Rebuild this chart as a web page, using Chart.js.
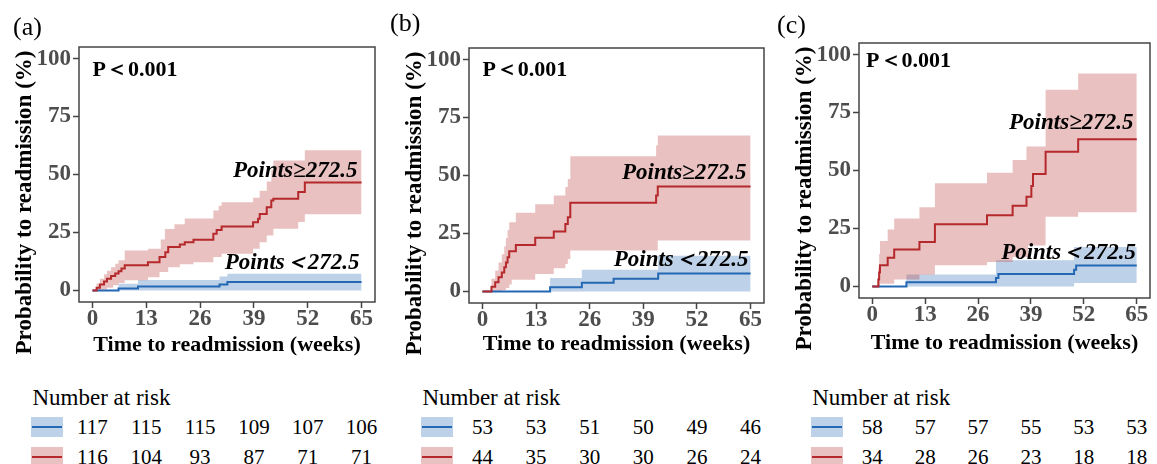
<!DOCTYPE html>
<html>
<head>
<meta charset="utf-8">
<script src="https://cdn.jsdelivr.net/npm/chart.js@4.4.0/dist/chart.umd.min.js"></script>
<style>
  html, body { margin: 0; padding: 0; background: #fff; }
  #wrap { position: relative; width: 1157px; height: 464px; overflow: hidden;
          font-family: "Liberation Serif", "Times New Roman", serif; color: #000; }
  #wrap canvas { position: absolute; top: 0; }
  .risk-title { position: absolute; font-size: 23px; line-height: 1; white-space: nowrap; transform: translateY(-50%); }
  .risk-num { position: absolute; font-size: 21px; line-height: 1; white-space: nowrap; transform: translate(-50%, -50%); }
  .swatch { position: absolute; width: 32px; height: 20px; }
  .swatch i { position: absolute; left: 1px; right: 1px; top: 9px; height: 2px; }
</style>
</head>
<body>
<div id="wrap"></div>
<script>
// axis ticks shared by the three panels
const xTicks = [0, 13, 26, 39, 52, 65];
const yTicks = [0, 25, 50, 75, 100];

// (a) step curves, [week, %]
const aHighLine = [[0,0],[1.0,1.2],[1.8,2.6],[2.8,3.8],[3.5,5.0],[4.5,6.2],[5.5,7.3],[6.3,8.3],[7.0,9.4],[7.8,10.8],[13.4,12.2],[16.2,14.4],[17.6,16.5],[18.3,18.7],[21.1,19.8],[22.3,20.8],[24.4,21.8],[29.2,24.4],[30.0,26.1],[31.2,27.6],[38.8,29.4],[40.0,30.9],[40.4,33.0],[42.1,35.9],[43.2,38.8],[43.7,39.5],[49.7,42.4],[51.3,46.5],[65,46.5]];
const aHighUpper = [[0,0],[1.0,3],[1.8,5],[2.8,7],[3.5,8.5],[4.5,10],[5.5,11.5],[6.3,13],[7.8,17.2],[13.4,18],[16.5,22],[17.5,26.5],[19.8,28.5],[22.3,31],[29.2,34.5],[30.5,36.5],[31.2,38],[38.8,40],[40.4,43],[42.1,47],[43.2,52],[43.7,56],[51.3,60.5],[65,60.5]];
const aHighLower = [[0,0],[2.5,0.4],[3.5,1.2],[5.0,2.2],[6.3,3.2],[7.8,4.4],[13.4,5.7],[16.2,7.9],[18.3,10],[21.1,11.3],[24.4,12.2],[29.2,14.4],[31.2,15.8],[38.8,18],[40.4,20.8],[42.1,23.7],[43.7,26.6],[49.7,29.5],[51.3,32.8],[65,32.8]];
const aLowLine = [[0,0],[6.3,0.85],[11.0,1.7],[30.7,2.6],[32.6,3.6],[65,3.6]];
const aLowUpper = [[0,0],[6.3,2.9],[11.0,4.5],[30.7,6.0],[32.6,7.2],[65,7.2]];
const aLowLower = [[0,0],[65,0]];

// (b)
const bHighLine = [[0,0],[2.2,2.0],[3.1,3.9],[3.9,6.1],[4.7,8.2],[5.3,10.4],[5.7,12.5],[6.1,14.7],[6.5,17.3],[8.1,20.0],[12.8,23.1],[17.3,25.8],[20.1,29.1],[20.7,32.0],[21.3,38.2],[42.1,41.4],[42.5,45.3],[65,45.3]];
const bHighUpper = [[0,0],[2.2,5.5],[3.1,9],[3.9,12.5],[4.7,16],[5.3,19.5],[5.7,23],[6.1,26.5],[6.5,29.8],[8.1,33.9],[12.8,37.6],[17.3,41.4],[20.1,45],[20.7,48.5],[21.3,58.3],[42.1,63],[42.5,67.3],[65,67.3]];
const bHighLower = [[0,0],[4.7,0.5],[5.7,1.5],[6.5,3.0],[7.1,5.0],[12.8,7.5],[17.3,10],[20.1,11.8],[20.7,14],[21.3,17.6],[42.5,22.0],[65,22.0]];
const bLowLine = [[0,0],[16.4,1.8],[24.1,3.7],[31.8,5.5],[42.6,7.7],[65,7.7]];
const bLowUpper = [[0,0],[16.4,5.8],[24.1,9.3],[42.6,15.4],[65,15.4]];
const bLowLower = [[0,0],[65,0]];

// (c)
const cHighLine = [[0,0],[1.5,3.0],[1.7,6.0],[1.9,9.1],[3.8,12.4],[5.4,15.9],[11.6,19.2],[15.4,26.8],[28.2,30.7],[34.5,34.8],[37.9,38.7],[39.1,43.3],[39.5,48.5],[42.6,58.1],[50.6,63.5],[65,63.5]];
const cHighUpper = [[0,0],[1.5,8],[1.7,14],[1.9,19.6],[3.8,24.5],[5.4,29.3],[11.6,34.1],[15.4,44.5],[28.2,49],[34.5,54.5],[37.9,60.3],[42.6,84.8],[50.6,91.8],[65,91.8]];
const cHighLower = [[0,0],[1.9,1.2],[5.4,3.0],[11.6,5.0],[15.4,9.1],[28.2,10.5],[34.5,12.7],[38.3,17.7],[42.6,30.0],[50.6,32.0],[65,32.0]];
const cLowLine = [[0,0],[8.4,1.8],[30.4,3.6],[31.0,5.3],[49.6,7.2],[50.1,9.0],[65,9.0]];
const cLowUpper = [[0,0],[8.4,5.1],[30.4,11.3],[49.6,17.0],[65,17.0]];
const cLowLower = [[0,0],[49.6,1.5],[65,1.5]];

// number at risk at each x tick
const riskALow = [117, 115, 115, 109, 107, 106];
const riskAHigh = [116, 104, 93, 87, 71, 71];
const riskBLow = [53, 53, 51, 50, 49, 46];
const riskBHigh = [44, 35, 30, 30, 26, 24];
const riskCLow = [58, 57, 57, 55, 53, 53];
const riskCHigh = [34, 28, 26, 23, 18, 18];

const SERIF = '"Liberation Serif", "Times New Roman", serif';
const RED = "#b5282b";
const BLUE = "#2468b4";
const RED_BAND = "rgba(190, 62, 62, 0.32)";
const BLUE_BAND = "rgba(36, 104, 180, 0.30)";
const CANVAS_H = 370;

const panels = [
    { letter: "(a)", left: 0, width: 388, area: { left: 79, top: 47, right: 375, bottom: 302 },
      letterPos: [13, 28], xTitleGap: 43, pAt: [0, 95], hiLabel: [64, 51.3], loLabel: [64.5, 11.6],
      high: aHighLine, highUp: aHighUpper, highLo: aHighLower, low: aLowLine, lowUp: aLowUpper, lowLo: aLowLower,
      riskLow: riskALow, riskHigh: riskAHigh },
    { letter: "(b)", left: 388, width: 388, area: { left: 81, top: 48, right: 376, bottom: 303 },
      letterPos: [2, 24], xTitleGap: 41, pAt: [0, 95.5], hiLabel: [64, 50.9], loLabel: [64.5, 13.4],
      high: bHighLine, highUp: bHighUpper, highLo: bHighLower, low: bLowLine, lowUp: bLowUpper, lowLo: bLowLower,
      riskLow: riskBLow, riskHigh: riskBHigh },
    { letter: "(c)", left: 776, width: 381, area: { left: 83, top: 43, right: 374, bottom: 298 },
      letterPos: [1, 26], xTitleGap: 45, pAt: [-1.5, 97], hiLabel: [64.2, 70.6], loLabel: [64.8, 14.3],
      high: cHighLine, highUp: cHighUpper, highLo: cHighLower, low: cLowLine, lowUp: cLowUpper, lowLo: cLowLower,
      riskLow: riskCLow, riskHigh: riskCHigh }
];

// "before" in Chart.js = horizontal first, then the jump (KM style)
function stepSet(points, color, width, fill, bg) {
    return {
        data: points.map((p) => ({ x: p[0], y: p[1] })),
        stepped: "before",
        borderColor: color,
        borderWidth: width,
        backgroundColor: bg || "rgba(0,0,0,0)",
        fill: fill,
        pointRadius: 0,
        tension: 0
    };
}

function decorFor(p) {
    return {
        id: "decor",
        afterDraw(chart) {
            const { ctx, chartArea: a } = chart;
            const x = chart.scales.x;
            const y = chart.scales.y;
            ctx.save();
            // panel frame
            ctx.strokeStyle = "#444";
            ctx.lineWidth = 1.5;
            ctx.strokeRect(a.left, a.top, a.right - a.left, a.bottom - a.top);

            ctx.fillStyle = "#000";
            ctx.textBaseline = "middle";
            ctx.textAlign = "left";
            ctx.font = "26px " + SERIF;
            ctx.fillText(p.letter, p.letterPos[0], p.letterPos[1]);

            ctx.textAlign = "center";
            ctx.font = "bold 22px " + SERIF;
            ctx.fillText("Time to readmission (weeks)", (a.left + a.right) / 2, a.bottom + p.xTitleGap);

            ctx.save();
            ctx.translate(a.left - 54, (a.top + a.bottom) / 2 + 28);
            ctx.rotate(-Math.PI / 2);
            ctx.font = "bold 23px " + SERIF;
            ctx.fillText("Probability to readmission (%)", 0, 0);
            ctx.restore();

            ctx.textAlign = "left";
            ctx.font = "bold 22px " + SERIF;
            ctx.fillText("P＜0.001", x.getPixelForValue(p.pAt[0]), y.getPixelForValue(p.pAt[1]));

            ctx.textAlign = "right";
            ctx.font = "italic bold 23px " + SERIF;
            ctx.fillText("Points≥272.5", x.getPixelForValue(p.hiLabel[0]), y.getPixelForValue(p.hiLabel[1]));
            ctx.fillText("Points＜272.5", x.getPixelForValue(p.loLabel[0]), y.getPixelForValue(p.loLabel[1]));
            ctx.restore();
        }
    };
}

const wrap = document.getElementById("wrap");

function addEl(cls, left, top, text) {
    const el = document.createElement("div");
    el.className = cls;
    el.style.left = left + "px";
    el.style.top = top + "px";
    if (text !== undefined) el.textContent = text;
    wrap.appendChild(el);
    return el;
}

function addSwatch(left, top, band, line) {
    const el = addEl("swatch", left, top);
    el.style.background = band;
    const i = document.createElement("i");
    i.style.background = line;
    el.appendChild(i);
}

panels.forEach((p) => {
    const a = p.area;
    const canvas = document.createElement("canvas");
    canvas.width = p.width;
    canvas.height = CANVAS_H;
    canvas.style.left = p.left + "px";
    canvas.style.width = p.width + "px";
    canvas.style.height = CANVAS_H + "px";
    wrap.appendChild(canvas);

    const tickFont = { family: SERIF, size: 23, weight: "bold" };

    const chart = new Chart(canvas, {
        type: "line",
        data: {
            datasets: [
                stepSet(p.high, RED, 2, false),
                stepSet(p.low, BLUE, 2, false),
                stepSet(p.highUp, "rgba(0,0,0,0)", 0, "+1", RED_BAND),
                stepSet(p.highLo, "rgba(0,0,0,0)", 0, false),
                stepSet(p.lowUp, "rgba(0,0,0,0)", 0, "+1", BLUE_BAND),
                stepSet(p.lowLo, "rgba(0,0,0,0)", 0, false)
            ]
        },
        options: {
            responsive: false,
            animation: false,
            events: [],
            layout: { padding: { left: 0, top: a.top, right: p.width - a.right, bottom: 0 } },
            plugins: { legend: { display: false }, tooltip: { enabled: false } },
            scales: {
                x: {
                    type: "linear",
                    min: -3.25,
                    max: 68.25,
                    afterBuildTicks: (s) => { s.ticks = xTicks.map((v) => ({ value: v })); },
                    afterFit: (s) => { s.height = CANVAS_H - a.bottom; },
                    grid: { drawOnChartArea: false, tickLength: 6, tickColor: "#444", tickWidth: 1.5 },
                    border: { display: false },
                    ticks: { font: tickFont, color: "#4d4d4d", padding: -3, maxRotation: 0, autoSkip: false }
                },
                y: {
                    type: "linear",
                    min: -5,
                    max: 105,
                    afterBuildTicks: (s) => { s.ticks = yTicks.map((v) => ({ value: v })); },
                    afterFit: (s) => { s.width = a.left; },
                    grid: { drawOnChartArea: false, tickLength: 6, tickColor: "#444", tickWidth: 1.5 },
                    border: { display: false },
                    ticks: { font: tickFont, color: "#4d4d4d", padding: 2, autoSkip: false }
                }
            }
        },
        plugins: [decorFor(p)]
    });

    // number-at-risk table, placed under the x ticks
    const xs = chart.scales.x;
    const px = (v) => p.left + xs.getPixelForValue(v);
    const x0 = px(xTicks[0]);
    addEl("risk-title", x0 - 60, 397, "Number at risk");
    addSwatch(x0 - 61, 417, BLUE_BAND, BLUE);
    addSwatch(x0 - 61, 447, RED_BAND, RED);
    xTicks.forEach((t, i) => {
        addEl("risk-num", px(t), 427, String(p.riskLow[i]));
        addEl("risk-num", px(t), 457, String(p.riskHigh[i]));
    });
});
</script>
</body>
</html>
